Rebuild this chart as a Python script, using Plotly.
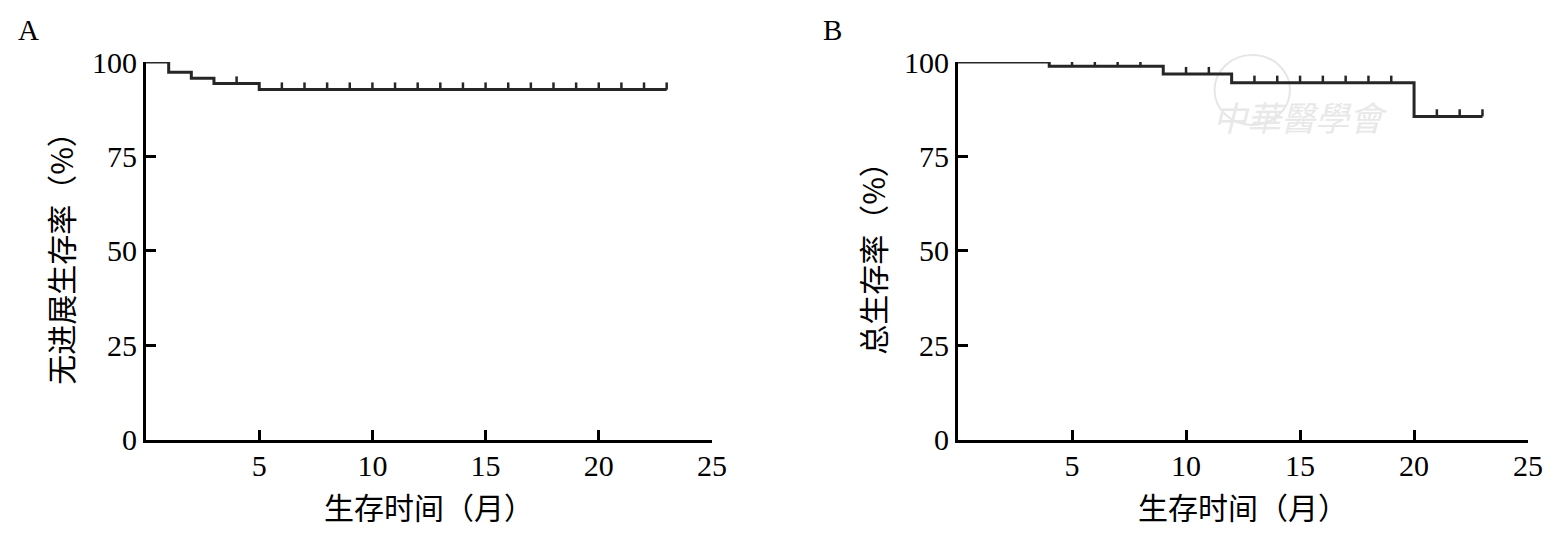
import numpy as np
import plotly.graph_objects as go
from plotly.subplots import make_subplots

# --- Kaplan-Meier data (months, %) ---
# A: progression-free survival
a_time = [0, 1, 2, 3, 5, 23]
a_surv = [100, 97.3, 95.7, 94.3, 92.7, 92.7]
a_censor = [4, 6, 7, 8, 9, 10, 11, 12, 13, 14, 15, 16, 17, 18, 19, 20, 21, 22, 23]

# B: overall survival
b_time = [0, 4, 9, 12, 20, 23]
b_surv = [100, 98.9, 96.8, 94.5, 85.6, 85.6]
b_censor = [5, 6, 7, 8, 10, 11, 13, 14, 15, 16, 17, 18, 19, 21, 22, 23]

x_ticks = [5, 10, 15, 20, 25]
y_ticks = [0, 25, 50, 75, 100]
x_title = "生存时间（月）"
y_titles = ["无进展生存率（%）", "总生存率（%）"]
panel_labels = ["A", "B"]

CURVE = "#262626"
SERIF = "Liberation Serif, Times New Roman, Noto Sans CJK SC, serif"
CJK = "Noto Sans CJK SC, Liberation Serif, serif"
TICK_H = 1.9  # censor mark height in % units


def censor_segments(time, surv, censor):
    # vertical ticks sitting on the step curve at censored times
    xs, ys = [], []
    for t in censor:
        i = np.searchsorted(time, t, side="right") - 1
        s = surv[i]
        xs += [t, t, None]
        ys += [s, s + TICK_H, None]
    return xs, ys


fig = make_subplots(rows=1, cols=2)

for col, (t, s, c) in enumerate([(a_time, a_surv, a_censor), (b_time, b_surv, b_censor)], start=1):
    fig.add_trace(go.Scatter(x=t, y=s, mode="lines", line=dict(shape="hv", color=CURVE, width=3),
                             showlegend=False, hoverinfo="skip"), row=1, col=col)
    cx, cy = censor_segments(t, s, c)
    fig.add_trace(go.Scatter(x=cx, y=cy, mode="lines", line=dict(color=CURVE, width=2.5),
                             showlegend=False, hoverinfo="skip"), row=1, col=col)

axis_common = dict(showgrid=False, zeroline=False, showline=True, linecolor="black", linewidth=3,
                   ticks="inside", ticklen=10, tickwidth=3, tickcolor="black", automargin=False,
                   tickfont=dict(family=SERIF, size=30, color="black"))

fig.update_xaxes(range=[0, 25], tickvals=x_ticks, ticklabelstandoff=-3,
                 title=dict(text=x_title, font=dict(family=CJK, size=30, color="black"), standoff=18),
                 **axis_common)
fig.update_yaxes(range=[0, 100], tickvals=y_ticks, ticklabelstandoff=0, **axis_common)
fig.update_yaxes(title=dict(text=y_titles[0], font=dict(family=CJK, size=30, color="black"), standoff=10),
                 row=1, col=1)
fig.update_yaxes(title=dict(text=y_titles[1], font=dict(family=CJK, size=30, color="black"), standoff=10),
                 row=1, col=2)

# page body adds an 8px margin, so the figure is sized to fit inside the window
fig.update_layout(
    width=1539, height=527,
    margin=dict(l=0, r=0, t=0, b=0, pad=0, autoexpand=False),
    paper_bgcolor="white", plot_bgcolor="white",
    xaxis=dict(domain=[0.0897, 0.4574]),
    xaxis2=dict(domain=[0.6173, 0.9877]),
    yaxis=dict(domain=[0.1803, 0.8975]),
    yaxis2=dict(domain=[0.1803, 0.8975]),
)

# panel letters
for lbl, xp in zip(panel_labels, [0.013, 0.536]):
    fig.add_annotation(text=lbl, xref="paper", yref="paper", x=xp, y=0.958, showarrow=False,
                       xanchor="center", yanchor="middle",
                       font=dict(family=SERIF, size=29, color="black"))

# faint society watermark in panel B
fig.add_shape(type="circle", xref="paper", yref="paper", x0=0.784, x1=0.833, y0=0.778, y1=0.911,
              line=dict(color="#e6e6e6", width=2), layer="below")
fig.add_annotation(text="<i>中華醫學會</i>", xref="paper", yref="paper", x=0.898, y=0.844, showarrow=False,
                   font=dict(family=CJK, size=34, color="#e8e8e8"), textangle=0)

fig.write_html("out.html")
